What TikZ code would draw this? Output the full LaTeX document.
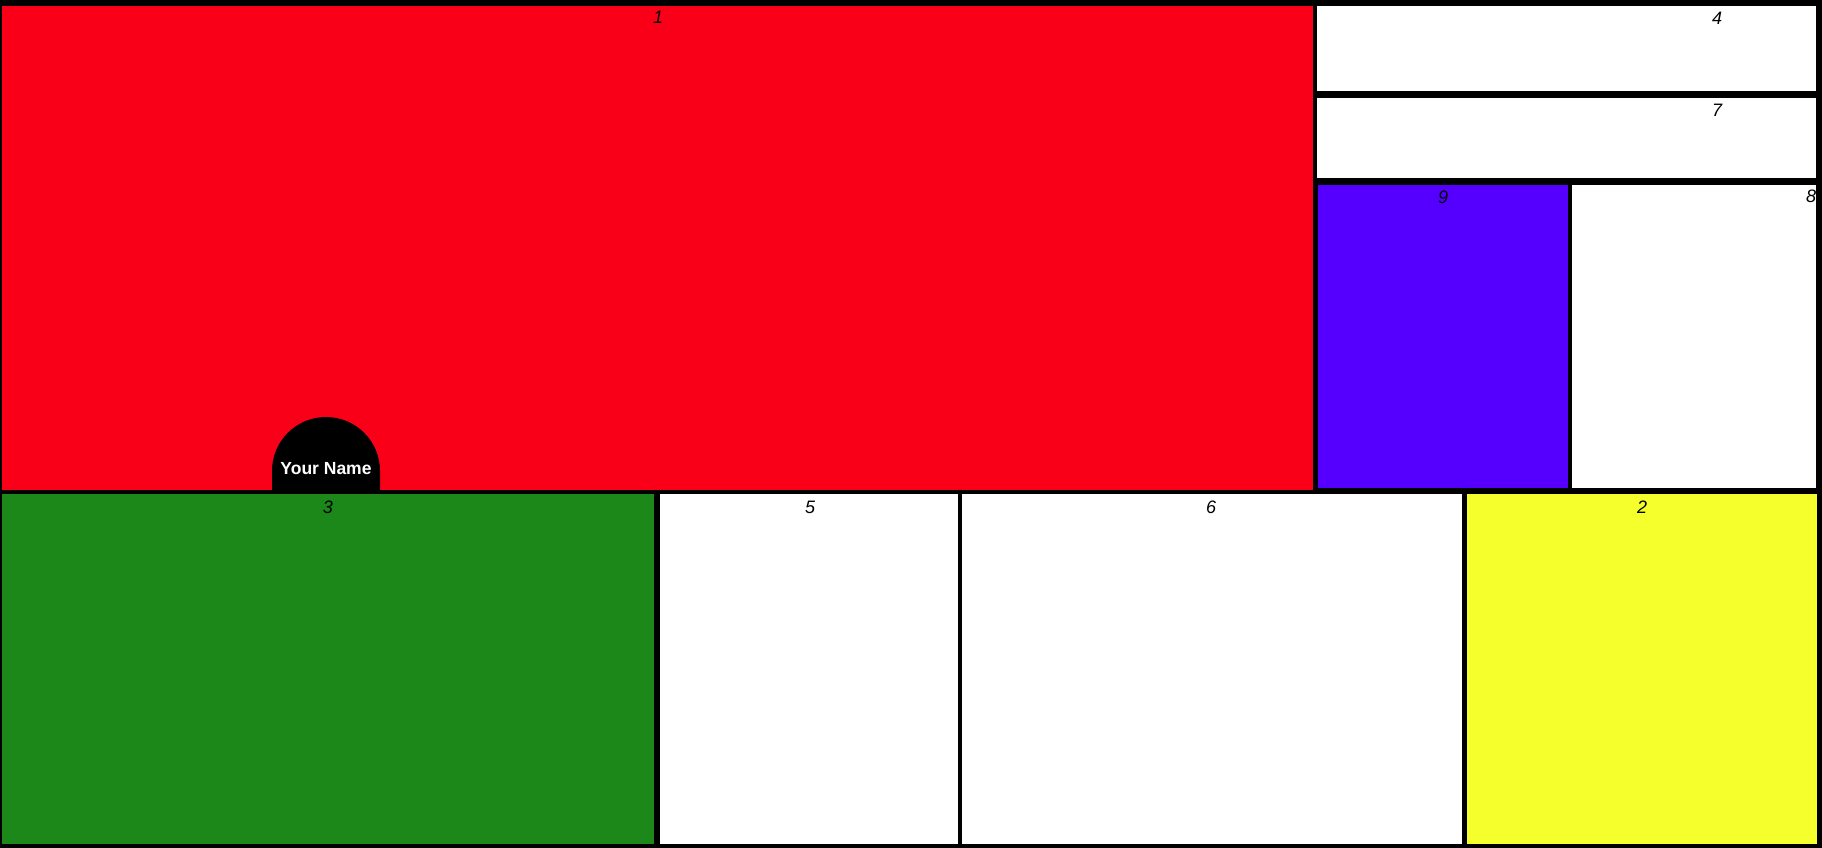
\documentclass[tikz,border=0pt]{standalone}
\usepackage{fontspec}
\setmainfont{Liberation Sans}
\definecolor{mred}{RGB}{250,0,24}
\definecolor{mblue}{RGB}{85,0,255}
\definecolor{mgreen}{RGB}{28,136,26}
\definecolor{myellow}{RGB}{245,255,43}
\begin{document}
\begin{tikzpicture}[x=1pt,y=1pt,
  panel/.style={anchor=south west,inner sep=0pt,outer sep=0pt,draw=none},
  num/.style={inner sep=0pt,font=\fontsize{18}{18}\selectfont\itshape,text=black}]
\useasboundingbox (0,0) rectangle (1822,848);
\fill[black] (0,0) rectangle (1822,848);
% panels
\node[panel,fill=mred,minimum width=1311pt,minimum height=484pt] (p1) at (2,358) {};
\node[panel,fill=white,minimum width=499pt,minimum height=85pt] (p4) at (1317,757) {};
\node[panel,fill=white,minimum width=499pt,minimum height=80pt] (p7) at (1317,670) {};
\node[panel,fill=mblue,minimum width=250pt,minimum height=303pt] (p9) at (1318,360) {};
\node[panel,fill=white,minimum width=244pt,minimum height=303pt] (p8) at (1572,360) {};
\node[panel,fill=mgreen,minimum width=652pt,minimum height=350pt] (p3) at (2,4) {};
\node[panel,fill=white,minimum width=298pt,minimum height=350pt] (p5) at (660,4) {};
\node[panel,fill=white,minimum width=500pt,minimum height=350pt] (p6) at (962,4) {};
\node[panel,fill=myellow,minimum width=350pt,minimum height=350pt] (p2) at (1467,4) {};
% badge
\fill[black] (272,356) -- (272,377) arc[start angle=180,end angle=0,radius=54pt] -- (380,356) -- cycle;
\node[inner sep=0pt,text=white,font=\fontsize{17.5}{17.5}\selectfont\bfseries] (name) at (326,379) {Your Name};
% labels
\node[num] (l1) at (658,831) {1};
\node[num] (l4) at (1717,830) {4};
\node[num] (l7) at (1717,738) {7};
\node[num] (l9) at (1443,651) {9};
\node[num] (l8) at (1811,652) {8};
\node[num] (l3) at (328,341) {3};
\node[num] (l5) at (810,341) {5};
\node[num] (l6) at (1211,341) {6};
\node[num] (l2) at (1642,341) {2};
\end{tikzpicture}
\end{document}
